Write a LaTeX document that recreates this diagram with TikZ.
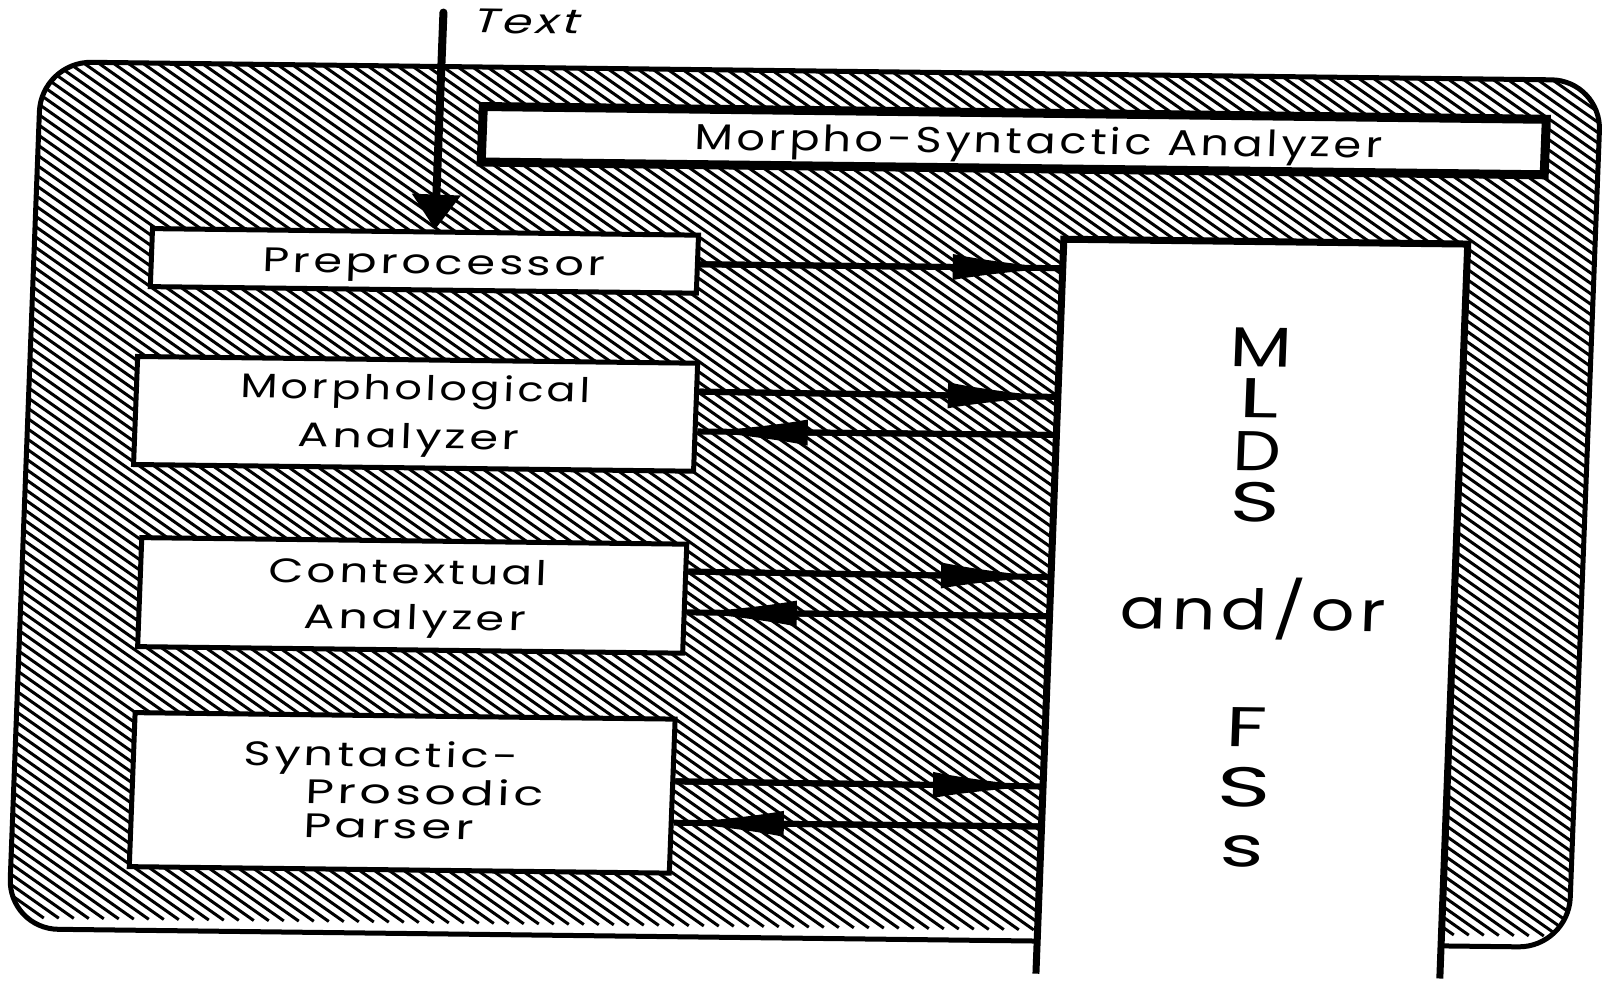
\documentclass[tikz,border=0pt]{standalone}
\usepackage{graphicx}
\usepackage{fontspec}
\setmainfont{Poppins}[LetterSpace=8]
\newfontfamily\slfont{Poppins}[FakeSlant=0.2,LetterSpace=8]
\usetikzlibrary{arrows.meta,calc}
\newcommand\wbox[2]{\resizebox{#1}{\height}{#2}}
\tikzset{
  hatch/.style={line width=1.5pt},
  frameline/.style={line width=2.5pt, rounded corners=25pt},
  colline/.style={line width=3.5pt},
  box/.style={draw, fill=white, line width=2.5pt, inner sep=0pt},
  arr/.style={line width=3pt, -{Latex[length=55pt,width=13pt]},
    postaction={draw, line width=3pt, arrows=-}},
  textarrow/.style={line width=4pt, line cap=round, -{Triangle[length=17.5pt,width=23.5pt]}},
  lbl/.style={anchor=base west, inner sep=0pt, font=\fontsize{17pt}{20pt}\selectfont},
  big/.style={anchor=base, inner sep=0pt, font=\fontsize{28pt}{32pt}\selectfont},
}
\begin{document}
\begin{tikzpicture}
\useasboundingbox (0,0) rectangle (802pt,-493.5pt);
\begin{scope}[x=0.5pt,y=-0.5pt,cm={1,-0.012,0.038,1,(9.5pt,4.8pt)},transform shape]
  % hatched frame
  \begin{scope}
    \clip[rounded corners=25pt] (25,71) rectangle (1585,938);
    \foreach \c in {-1300,-1285,...,1600}
      \draw[hatch] (\c,50) -- ++(1300,876.9);
  \end{scope}
  % MLDS column (white cut-out)
  \node[fill=white, inner sep=0pt, minimum width=201.5pt, minimum height=366.75pt] (col) at (1255.5,603.25) {};
  \draw[frameline] (1054,938) -- (25,938) -- (25,71) -- (1585,71) -- (1585,938) -- (1457,938);
  \draw[colline] (col.south west) -- (col.north west) -- (col.north east) -- (col.south east);
  % boxes
  \node[box, line width=4.5pt, minimum width=531.5pt, minimum height=27.75pt] (msa) at (1000,138.25) {};
  \node[box, minimum width=273pt, minimum height=29pt] (pre) at (415.5,265.5) {};
  \node[box, minimum width=280pt, minimum height=54pt] (morph) at (412.5,418.5) {};
  \node[box, minimum width=272.5pt, minimum height=54.5pt] (ctx) at (416,600) {};
  \node[box, minimum width=270pt, minimum height=77pt] (syn) at (413.5,797.5) {};
  % texts
  \node[lbl, font=\fontsize{18pt}{21pt}\selectfont] (tmsa) at (681,151) {\wbox{343.5pt}{Morpho-Syntactic Analyzer}};
  \node[lbl] (tpre) at (253.3,278.5) {\wbox{171.5pt}{Preprocessor}};
  \node[lbl] (tmorph1) at (236,404.7) {\wbox{175pt}{Morphological}};
  \node[lbl] (tmorph2) at (295,453) {\wbox{111pt}{Analyzer}};
  \node[lbl] (tctx1) at (271,588.4) {\wbox{139.5pt}{Contextual}};
  \node[lbl] (tctx2) at (308,634) {\wbox{111pt}{Analyzer}};
  \node[lbl] (tsyn1) at (253,771.7) {\wbox{137.5pt}{Syntactic-}};
  \node[lbl] (tsyn2) at (316.5,809) {\wbox{119pt}{Prosodic}};
  \node[lbl] (tsyn3) at (315.8,843) {\wbox{85pt}{Parser}};
  \node[lbl, font=\slfont\fontsize{17pt}{20pt}\selectfont] (ttext) at (453,37) {\wbox{53.5pt}{Text}};
  % MLDS and/or FSs
  \node[big] (lm) at (1255,361.5) {\wbox{31pt}{M}};
  \node[big] (ll) at (1255,412.5) {\wbox{20pt}{L}};
  \node[big] (ld) at (1255,465.5) {\wbox{24pt}{D}};
  \node[big] (ls) at (1255,516) {\wbox{25pt}{S}};
  \node[big, anchor=base west] (landor) at (1123.7,624.5) {\wbox{133pt}{and/or}};
  \node[big] (lf) at (1255,741.5) {\wbox{20.5pt}{F}};
  \node[big] (ls2) at (1255,801.5) {\wbox{27pt}{S}};
  \node[big] (ls3) at (1255,861.5) {\wbox{22pt}{s}};
  % input arrow
  \coordinate (tin) at (425,17);
  \draw[textarrow] (tin) -- ($(pre.north west)!0.517!(pre.north east)$);
  % arrows between boxes and column
  \draw[arr] (pre.east) -- ($(col.north west)!0.0395!(col.south west)$);
  \draw[arr] ($(morph.north east)!0.273!(morph.south east)$) -- ($(col.north west)!0.2147!(col.south west)$);
  \draw[arr] ($(col.north west)!0.2665!(col.south west)$) -- ($(morph.north east)!0.625!(morph.south east)$);
  \draw[arr] ($(ctx.north east)!0.261!(ctx.south east)$) -- ($(col.north west)!0.4601!(col.south west)$);
  \draw[arr] ($(col.north west)!0.5133!(col.south west)$) -- ($(ctx.north east)!0.619!(ctx.south east)$);
  \draw[arr] ($(syn.north east)!0.406!(syn.south east)$) -- ($(col.north west)!0.7451!(col.south west)$);
  \draw[arr] ($(col.north west)!0.7996!(col.south west)$) -- ($(syn.north east)!0.666!(syn.south east)$);
\end{scope}
\end{tikzpicture}
\end{document}
